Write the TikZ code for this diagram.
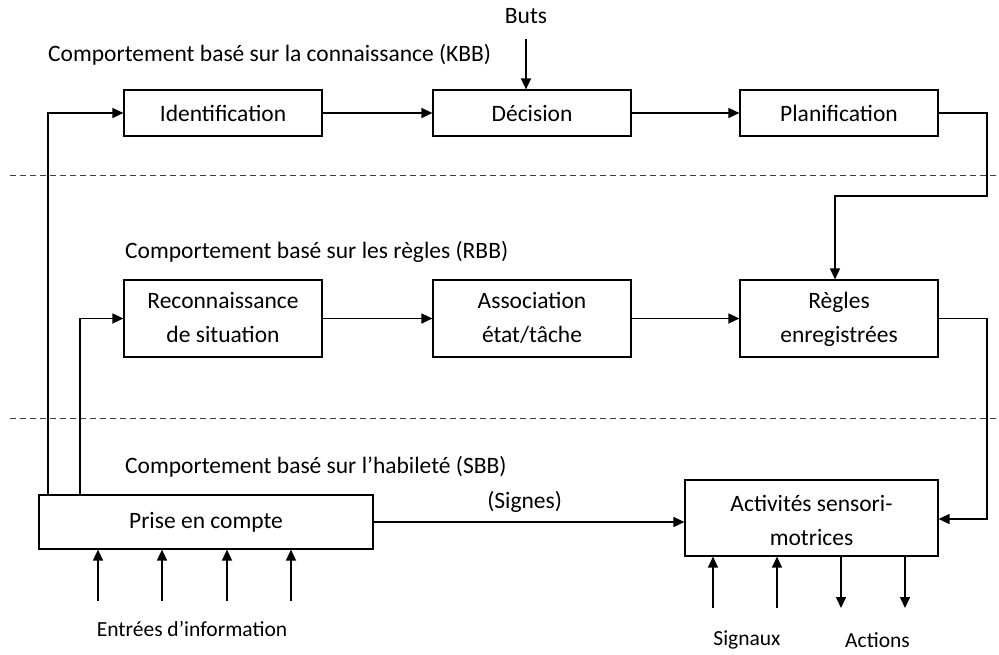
\documentclass[tikz,border=0pt]{standalone}
\usepackage{fontspec}
\setmainfont{Carlito}
\usetikzlibrary{arrows.meta}
\newcommand{\lnstrut}{\rule[-10.2pt]{0pt}{34pt}}
\begin{document}
\begin{tikzpicture}[x=1pt,y=-1pt,
  box/.style={draw,line width=1.2pt,minimum width=198pt,inner sep=0pt,align=center,
    font=\fontsize{23.5}{34}\selectfont},
  lbl/.style={inner sep=0pt,font=\fontsize{23.5}{34}\selectfont},
  small/.style={inner sep=0pt,font=\fontsize{21.5}{26}\selectfont},
  arr/.style={line width=1.6pt,-{Triangle[length=11pt,width=10pt]}},
  sep/.style={line width=1pt,dash pattern=on 6pt off 4pt,draw=black!75}]
\useasboundingbox (0,0) rectangle (999,654);
% headings
\node[lbl,anchor=west] (hkbb) at (48,55) {Comportement basé sur la connaissance (KBB)};
\node[lbl,anchor=west] (hrbb) at (125,252) {Comportement basé sur les règles (RBB)};
\node[lbl,anchor=west] (hsbb) at (125,467) {Comportement basé sur l’habileté (SBB)};
% separators
\coordinate (s1a) at (10,175); \coordinate (s1b) at (999,175);
\coordinate (s2a) at (10,418); \coordinate (s2b) at (999,418);
\draw[sep] (s1a) -- (s1b);
\draw[sep] (s2a) -- (s2b);
% boxes
\node[box,minimum height=46pt] (ident) at (223,113) {Identification};
\node[box,minimum height=46pt] (dec) at (532,113) {Décision};
\node[box,minimum height=46pt] (plan) at (839,113) {Planification};
\node[box,minimum height=77pt] (recon) at (223,318.5) {Reconnaissance\lnstrut\\de situation\lnstrut};
\node[box,minimum height=77pt] (assoc) at (532,318.5) {Association\lnstrut\\état/tâche\lnstrut};
\node[box,minimum height=77pt] (regles) at (839,318.5) {Règles\lnstrut\\enregistrées\lnstrut};
\node[box,minimum width=334pt,minimum height=54pt] (prise) at (206,522) {Prise en compte};
\node[box,minimum width=253pt,minimum height=76pt] (activ) at (811.5,518) {Activités sensori-\rule[-10.2pt]{0pt}{41pt}\\motrices\lnstrut};
% Buts
\node[lbl] (buts) at (526,16) {Buts};
\coordinate (butsa) at (526,39);
\draw[arr] (butsa) -- (butsa |- dec.north);
% top row
\draw[arr] (ident) -- (dec);
\draw[arr] (dec) -- (plan);
\coordinate (pr1) at (987,113);
\coordinate (pr2) at (835,196);
\draw[arr] (plan.east) -- (pr1) |- (pr2) -- (pr2 |- regles.north);
% middle row
\draw[arr] (recon) -- (assoc);
\draw[arr] (assoc) -- (regles);
\coordinate (rr1) at (987,318.5);
\coordinate (rr2) at (987,519);
\draw[arr] (regles.east) -- (rr1) -- (rr2) -- (rr2 -| activ.east);
% feedback from Prise en compte
\coordinate (pk) at (48,495);
\coordinate (pr) at (80,495);
\draw[arr] (pk) |- (ident.west);
\draw[arr] (pr) |- (recon.west);
\draw[arr] (prise.east) -- (prise.east -| activ.west) node[lbl,pos=0.486,above=9pt] (signes) {(Signes)};
% inputs
\foreach \x [count=\i] in {98,162,227,291}{
  \coordinate (in\i) at (\x,601);
  \draw[arr] (in\i) -- (in\i |- prise.south);
}
\node[small] (entrees) at (192,629) {Entrées d’information};
% signals / actions
\foreach \x [count=\i] in {713,777}{
  \coordinate (sig\i) at (\x,608);
  \draw[arr] (sig\i) -- (sig\i |- activ.south);
}
\foreach \x [count=\i] in {841,905}{
  \coordinate (act\i) at (\x,608);
  \draw[arr] (act\i |- activ.south) -- (act\i);
}
\node[small] (signaux) at (747,640) {Signaux};
\node[small] (actions) at (877.5,640) {Actions};
\end{tikzpicture}
\end{document}
